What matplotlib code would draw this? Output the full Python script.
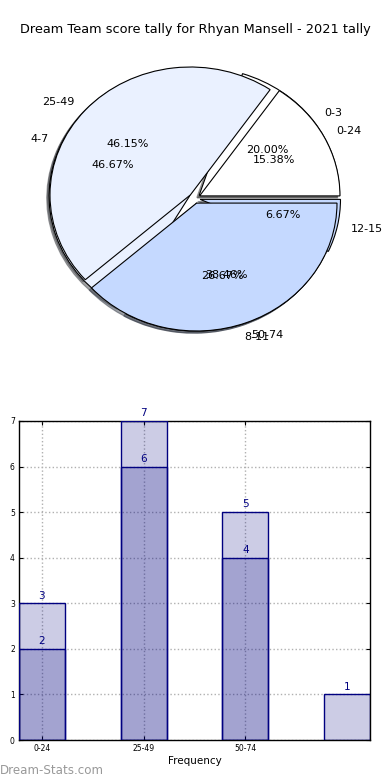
import matplotlib
matplotlib.use("Agg")
import matplotlib.pyplot as plt

# Data
title = "Dream Team score tally for Rhyan Mansell - 2021 tally"
pie1_labels = ['0-3', '4-7', '8-11', '12-15']
pie1_values = [3, 7, 4, 1]
pie2_labels = ['0-24', '25-49', '50-74']
pie2_values = [2, 6, 5]

bar_light = [3, 7, 5, 1]
bar_dark = [2, 6, 4]
bar_ticklabels = ['0-24', '25-49', '50-74']

pie_colors = ['#ffffff', '#eaf1ff', '#c5d9ff', '#c5d9ff']

fig = plt.figure(figsize=(3.9, 7.8), dpi=100)
W, H = 390.0, 780.0

fig.text(0.5, 1 - 30 / H, title, ha='center', va='center', fontsize=9.3)

# Pie axes
cx, cy = 194.6, 198.3
rx, ry = 140.4, 127.9
lim = 1.3
axw, axh = 2 * lim * rx, 2 * lim * ry
axp = fig.add_axes([(cx - axw / 2) / W, 1 - (cy + axh / 2) / H, axw / W, axh / H])
for vals, labs in ((pie1_values, pie1_labels), (pie2_values, pie2_labels)):
    wedges, texts, autotexts = axp.pie(
        vals, labels=labs, colors=pie_colors[:len(vals)], explode=[0.04] * len(vals),
        autopct='%1.2f%%', shadow={'ox': -0.012, 'oy': -0.012, 'shade': 0.7},
        startangle=0,
        wedgeprops=dict(edgecolor='black', linewidth=0.8),
        textprops=dict(fontsize=8))
axp.set_aspect('auto')
axp.set_xlim(-lim, lim)
axp.set_ylim(-lim, lim)
axp.axis('off')

# Bar axes
axb = fig.add_axes([19 / W, 40 / H, 351 / W, 319 / H])
w = 0.45
navy = '#000080'
xl = list(range(len(bar_light)))
xd = list(range(len(bar_dark)))
axb.bar(xl, bar_light, width=w, align='edge', color=navy, alpha=0.2, zorder=2)
axb.bar(xl, bar_light, width=w, align='edge', facecolor='none', edgecolor=navy, linewidth=1, zorder=3)
axb.bar(xd, bar_dark, width=w, align='edge', color=navy, alpha=0.2, zorder=2)
axb.bar(xd, bar_dark, width=w, align='edge', facecolor='none', edgecolor=navy, linewidth=1, zorder=3)
for x, v in zip(xl, bar_light):
    axb.text(x + w / 2, v + 0.06, str(v), ha='center', va='bottom', color=navy, fontsize=7.5, clip_on=False)
for x, v in zip(xd, bar_dark):
    axb.text(x + w / 2, v + 0.06, str(v), ha='center', va='bottom', color=navy, fontsize=7.5, clip_on=False)
axb.set_xlim(0, len(bar_light) - 1 + w)
axb.set_ylim(0, 7)
axb.set_yticks(range(8))
axb.set_xticks([i + w / 2 for i in range(len(bar_ticklabels))])
axb.set_xticklabels(bar_ticklabels)
axb.tick_params(labelsize=5.5, direction='in', top=True, right=True, length=3, width=0.8, pad=3)
axb.grid(True, linestyle=':', color='#b0b0b0', linewidth=1, zorder=0)
axb.set_axisbelow(True)
axb.set_xlabel('Frequency', fontsize=7.5, labelpad=2)
for s in axb.spines.values():
    s.set_linewidth(1)

fig.text(0.0, 1 - 770 / H, 'Dream-Stats.com', ha='left', va='center', fontsize=8.6,
         color='#999999')

fig.savefig('out.png', dpi=100)
